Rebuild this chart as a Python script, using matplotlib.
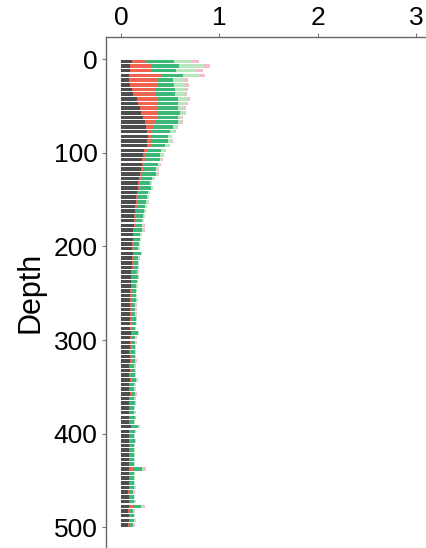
import numpy as np
import matplotlib
matplotlib.use("Agg")
import matplotlib.pyplot as plt

plt.rcParams['font.family'] = ['Liberation Sans', 'DejaVu Sans']

depth = np.arange(2.5, 500, 5)

gray = [0.11, 0.09, 0.09, 0.08, 0.08, 0.09, 0.11, 0.12, 0.16, 0.17,
        0.19, 0.20, 0.22, 0.24, 0.25, 0.26, 0.27, 0.26, 0.26, 0.23,
        0.22, 0.21, 0.21, 0.20, 0.19, 0.18, 0.17, 0.17, 0.16, 0.155,
        0.15, 0.145, 0.14, 0.135, 0.13, 0.13, 0.125, 0.12, 0.12, 0.115,
        0.115, 0.12, 0.11, 0.11, 0.11, 0.105, 0.105, 0.10, 0.10, 0.095,
        0.095, 0.095, 0.09, 0.095, 0.09, 0.09, 0.095, 0.09, 0.10, 0.09,
        0.09, 0.09, 0.085, 0.09, 0.09, 0.085, 0.09, 0.085, 0.09, 0.085,
        0.085, 0.09, 0.085, 0.085, 0.08, 0.085, 0.085, 0.08, 0.10, 0.085,
        0.08, 0.085, 0.08, 0.08, 0.085, 0.08, 0.08, 0.08, 0.08, 0.08,
        0.08, 0.08, 0.075, 0.08, 0.08, 0.08, 0.075, 0.08, 0.08, 0.075]

red = [0.135, 0.21, 0.22, 0.33, 0.30, 0.27, 0.24, 0.23, 0.20, 0.21,
       0.19, 0.18, 0.14, 0.11, 0.08, 0.05, 0.03, 0.04, 0.04, 0.03,
       0.03, 0.03, 0.02, 0.02, 0.02, 0.02, 0.02, 0.015, 0.015, 0.015,
       0.015, 0.015, 0.01, 0.01, 0.01, 0.01, 0.01, 0.01, 0.01, 0.01,
       0.01, 0.01, 0.01, 0.01, 0.01, 0.01, 0.01, 0.01, 0.01, 0.01,
       0.008, 0.008, 0.008, 0.008, 0.008, 0.008, 0.008, 0.008, 0.008, 0.008,
       0.008, 0.008, 0.008, 0.008, 0.008, 0.008, 0.008, 0.008, 0.008, 0.008,
       0.008, 0.008, 0.008, 0.008, 0.008, 0.008, 0.008, 0.008, 0.008, 0.008,
       0.008, 0.008, 0.008, 0.008, 0.008, 0.008, 0.008, 0.05, 0.008, 0.008,
       0.008, 0.008, 0.008, 0.008, 0.008, 0.05, 0.008, 0.008, 0.008, 0.008]

green = [0.295, 0.29, 0.25, 0.22, 0.15, 0.18, 0.20, 0.20, 0.22, 0.20,
         0.20, 0.22, 0.22, 0.23, 0.20, 0.19, 0.18, 0.18, 0.15, 0.15,
         0.15, 0.16, 0.15, 0.13, 0.14, 0.11, 0.10, 0.115, 0.095, 0.09,
         0.085, 0.08, 0.08, 0.075, 0.07, 0.075, 0.08, 0.065, 0.06, 0.055,
         0.05, 0.07, 0.055, 0.05, 0.05, 0.05, 0.055, 0.05, 0.045, 0.045,
         0.045, 0.05, 0.045, 0.04, 0.045, 0.05, 0.045, 0.04, 0.06, 0.045,
         0.045, 0.04, 0.045, 0.04, 0.045, 0.04, 0.04, 0.045, 0.055, 0.04,
         0.04, 0.045, 0.04, 0.045, 0.04, 0.04, 0.045, 0.04, 0.065, 0.045,
         0.04, 0.045, 0.04, 0.04, 0.035, 0.04, 0.04, 0.08, 0.04, 0.04,
         0.04, 0.045, 0.04, 0.04, 0.045, 0.075, 0.04, 0.04, 0.045, 0.04]

light_green = [0.17, 0.24, 0.20, 0.16, 0.11, 0.12, 0.10, 0.10, 0.10, 0.08,
               0.06, 0.05, 0.04, 0.04, 0.04, 0.05, 0.03, 0.04, 0.04, 0.04,
               0.03, 0.02, 0.02, 0.03, 0.03, 0.03, 0.02, 0.02, 0.02, 0.02,
               0.03, 0.02, 0.02, 0.02, 0.02, 0.02, 0.02, 0.015, 0.01, 0.01,
               0.01, 0.01, 0.01, 0.01, 0.01, 0.01, 0.01, 0.01, 0.01, 0.01,
               0.01, 0.01, 0.01, 0.01, 0.01, 0.01, 0.01, 0.01, 0.01, 0.01,
               0.01, 0.01, 0.01, 0.01, 0.01, 0.01, 0.01, 0.01, 0.01, 0.01,
               0.01, 0.01, 0.01, 0.01, 0.01, 0.01, 0.01, 0.01, 0.01, 0.01,
               0.01, 0.01, 0.01, 0.01, 0.01, 0.01, 0.01, 0.015, 0.01, 0.01,
               0.01, 0.01, 0.01, 0.01, 0.01, 0.015, 0.01, 0.01, 0.01, 0.01]

pink = [0.08, 0.07, 0.07, 0.06, 0.04, 0.03, 0.03, 0.02, 0.02, 0.02,
        0.02, 0.01, 0.01, 0.01, 0.01, 0.01, 0.01, 0.01, 0.01, 0.01,
        0.01, 0.01, 0.01, 0.005, 0.005, 0.005, 0.005, 0.005, 0.005, 0.005,
        0.005, 0.005, 0.005, 0.005, 0.005, 0.005, 0.005, 0.005, 0.005, 0.005,
        0.005, 0.005, 0.005, 0.005, 0.005, 0.005, 0.005, 0.005, 0.005, 0.005,
        0.004, 0.004, 0.004, 0.004, 0.004, 0.004, 0.004, 0.004, 0.004, 0.004,
        0.004, 0.004, 0.004, 0.004, 0.004, 0.004, 0.004, 0.004, 0.004, 0.004,
        0.004, 0.004, 0.004, 0.004, 0.004, 0.004, 0.004, 0.004, 0.004, 0.004,
        0.004, 0.004, 0.004, 0.004, 0.004, 0.004, 0.004, 0.025, 0.004, 0.004,
        0.004, 0.004, 0.004, 0.004, 0.004, 0.025, 0.004, 0.004, 0.004, 0.004]

series = [gray, red, green, light_green, pink]
colors = ['#4d4d4d', '#f0644f', '#3cb878', '#b8e6bf', '#f4bccb']

fig = plt.figure(figsize=(4.26, 5.48), dpi=100)
ax = fig.add_axes([0.249, 0.0, 0.751, 0.9325])

left = np.zeros(len(depth))
for vals, c in zip(series, colors):
    v = np.array(vals)
    ax.barh(depth, v, left=left, height=3.8, color=c, edgecolor='none')
    left = left + v

ax.set_xlim(-0.153, 3.1)
ax.set_ylim(522, -23.5)
ax.set_xticks([0, 1, 2, 3])
ax.set_yticks([0, 100, 200, 300, 400, 500])
ax.xaxis.tick_top()
ax.tick_params(axis='both', direction='out', length=3, width=0.8,
               color='#777777', labelsize=19, labelcolor='black')
ax.tick_params(axis='x', pad=2)
ax.tick_params(axis='y', pad=3)
for s in ['bottom', 'right']:
    ax.spines[s].set_visible(False)
for s in ['top', 'left']:
    ax.spines[s].set_color('#666666')
    ax.spines[s].set_linewidth(1.0)
ax.set_ylabel('Depth', fontsize=22, labelpad=6)

fig.savefig('out.png', dpi=100)
